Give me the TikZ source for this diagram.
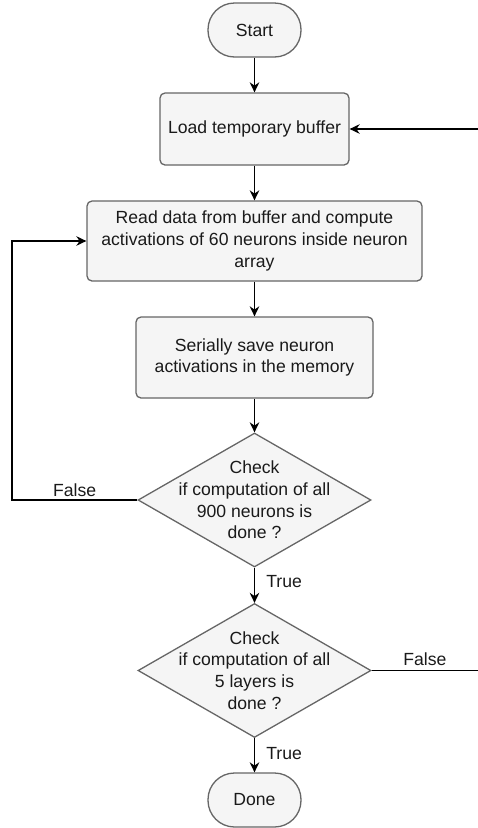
\documentclass[tikz,border=0pt]{standalone}
\usepackage{fontspec}
\setmainfont{Liberation Sans}
\usetikzlibrary{arrows.meta,shapes.geometric}
\definecolor{boxfill}{HTML}{F5F5F5}
\definecolor{boxline}{HTML}{666666}
\definecolor{boxtext}{HTML}{1A1A1A}
\tikzset{
  blk/.style   ={draw=boxline,fill=boxfill,line width=1.3pt,text=boxtext,
                 font=\fontsize{17.6}{21.6}\selectfont,align=center,inner sep=0pt},
  term/.style  ={blk,rectangle,rounded corners=26.5pt,minimum width=93pt,minimum height=54pt},
  proc/.style  ={blk,rectangle,rounded corners=5pt},
  dec/.style   ={blk,diamond,minimum width=233pt,minimum height=134pt},
  dectxt/.style={font=\fontsize{17.6}{21.6}\selectfont,text=boxtext,align=center,inner sep=0pt},
  ed/.style    ={->,draw=black,line width=1.6pt},
  ann/.style   ={font=\fontsize{17.6}{21.6}\selectfont,text=boxtext,inner sep=4pt},
}

\begin{document}
\begin{tikzpicture}[
  >={Stealth[length=10pt,width=9.5pt]},
  x=1pt, y=-1pt,
]
\useasboundingbox (0,0) rectangle (478,828);

%% ---------------- nodes ----------------
\node[term] (start) at (254.5, 30) {Start};
\node[proc,minimum width=189pt,minimum height=72pt] (load) at (254.5,129) {Load temporary buffer};
\node[proc,minimum width=335pt,minimum height=80pt] (read) at (254.5,241)
  {Read data from buffer and compute\\activations of 60 neurons inside neuron\\array};
\node[proc,minimum width=237pt,minimum height=81pt] (save) at (254.5,357.5)
  {Serially save neuron\\activations in the memory};
\node[dec,label={[dectxt]center:Check\\if computation of all\\900 neurons is\\done ?}]
  (chkN) at (254.5,500) {};
\node[dec,label={[dectxt]center:Check\\if computation of all\\5 layers is\\done ?}]
  (chkL) at (254.5,670.5) {};
\node[term] (done) at (254.5,800) {Done};

%% loose ends at the picture border
\coordinate (inR)  at (478,129);
\coordinate (lp)   at (12,500);
\coordinate (outR) at (478,670.5);

%% ---------------- edges ----------------
\foreach \u/\v in {start/load, load/read, read/save, save/chkN}{
  \draw[ed] (\u.south) -- (\v.north);
}
\draw[ed] (inR) -- (load.east);
\draw[ed] (chkN.west) -- node[ann,above,yshift=-1pt]{False} (lp) |- (read.west);
\draw[ed] (chkN.south) -- node[ann,right,xshift=7pt,yshift=4pt]{True} (chkL.north);
\draw[ed,-] (chkL.east) -- node[ann,above]{False} (outR);
\draw[ed] (chkL.south) -- node[ann,right,xshift=7pt,yshift=2pt]{True} (done.north);

\end{tikzpicture}
\end{document}
